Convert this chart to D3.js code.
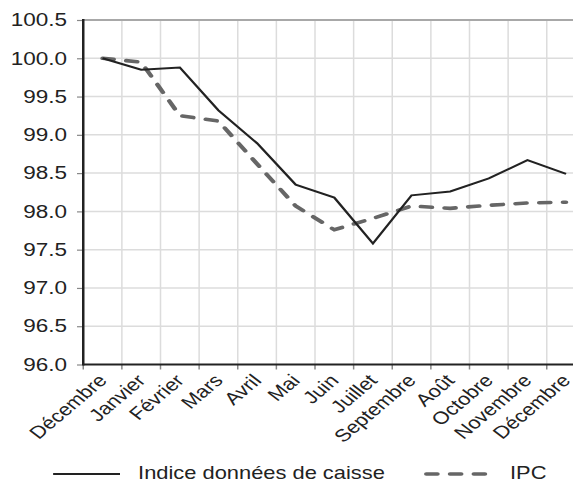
<!DOCTYPE html>
<html lang="fr">
<head>
<meta charset="UTF-8">
<script src="https://d3js.org/d3.v7.min.js"></script>
<style>
  body { margin: 0; background: #fff; }
  text { font-family: 'Liberation Sans', Arial, sans-serif; fill: #222; }
</style>
</head>
<body>
<div id="chart"></div>
<script>
// données
const mois = ["Décembre", "Janvier", "Février", "Mars", "Avril", "Mai", "Juin",
              "Juillet", "Septembre", "Août", "Octobre", "Novembre", "Décembre"];
const indiceCaisse = [100.0, 99.85, 99.88, 99.32, 98.89, 98.35, 98.18, 97.58, 98.21, 98.26, 98.43, 98.67, 98.49];
const ipc = [100.0, 99.95, 99.25, 99.18, 98.62, 98.07, 97.76, 97.91, 98.07, 98.04, 98.08, 98.11, 98.12];
const yTicks = [96.0, 96.5, 97.0, 97.5, 98.0, 98.5, 99.0, 99.5, 100.0, 100.5];

// le graphique d'origine est étiré horizontalement
const W = 573, H = 482, sx = 1.25;
const iw = W / sx;
const mLeft = 66.6, mTop = 20, mBottom = 364.5, step = 30.9;

const svg = d3.select("#chart").append("svg")
  .attr("width", W).attr("height", H)
  .attr("viewBox", `0 0 ${iw} ${H}`)
  .attr("preserveAspectRatio", "none")
  .style("display", "block");

const idx = mois.map((d, i) => i);
const x = d3.scaleBand().domain(idx).range([mLeft, mLeft + step * mois.length]);
const y = d3.scaleLinear().domain([96, 100.5]).range([mBottom, mTop]);

// grille
svg.append("g").selectAll("line")
  .data(yTicks.slice(1, -1))
  .enter().append("line")
  .attr("x1", mLeft).attr("x2", iw)
  .attr("y1", d => y(d)).attr("y2", d => y(d))
  .attr("stroke", "#dcdcdc").attr("stroke-width", 1.5);

svg.append("g").selectAll("line")
  .data(idx.slice(1))
  .enter().append("line")
  .attr("x1", d => x(d)).attr("x2", d => x(d))
  .attr("y1", mTop).attr("y2", mBottom)
  .attr("stroke", "#dcdcdc").attr("stroke-width", 1.2);

// bord supérieur
svg.append("line")
  .attr("x1", mLeft).attr("x2", iw)
  .attr("y1", y(100.5)).attr("y2", y(100.5))
  .attr("stroke", "#a8a8a8").attr("stroke-width", 2.2);

// axe Y
const yAxis = svg.append("g")
  .attr("transform", `translate(${mLeft},0)`)
  .call(d3.axisLeft(y).tickValues(yTicks).tickFormat(d3.format(".1f")).tickSize(5).tickPadding(8));
yAxis.select(".domain").remove();
yAxis.selectAll("line").attr("stroke", "#888").attr("stroke-width", 1.2);
yAxis.selectAll("text").attr("font-size", 18).attr("fill", "#222");

// axe X
const xAxis = svg.append("g")
  .attr("transform", `translate(0,${mBottom})`)
  .call(d3.axisBottom(x).tickSize(0).tickFormat(i => mois[i]));
xAxis.select(".domain").remove();
xAxis.selectAll("text")
  .attr("font-size", 17.5)
  .attr("fill", "#222")
  .attr("text-anchor", "end")
  .attr("x", 0).attr("y", 0).attr("dy", 0)
  .attr("transform", "translate(4.4,17) rotate(-46.5)");

svg.append("g").selectAll("line")
  .data(idx)
  .enter().append("line")
  .attr("x1", d => x(d)).attr("x2", d => x(d))
  .attr("y1", mBottom).attr("y2", mBottom + 5)
  .attr("stroke", "#888").attr("stroke-width", 1.2);

svg.append("line")
  .attr("x1", mLeft).attr("x2", iw)
  .attr("y1", mBottom).attr("y2", mBottom)
  .attr("stroke", "#222").attr("stroke-width", 2.2);
svg.append("line")
  .attr("x1", mLeft).attr("x2", mLeft)
  .attr("y1", mTop - 1).attr("y2", mBottom + 1)
  .attr("stroke", "#222").attr("stroke-width", 2);

// courbes
const cx = i => x(i) + x.bandwidth() / 2;
const line = d3.line().x((d, i) => cx(i)).y(d => y(d));

svg.append("path")
  .datum(ipc)
  .attr("d", line)
  .attr("fill", "none")
  .attr("stroke", "#666")
  .attr("stroke-width", 3.6)
  .attr("stroke-dasharray", "9,10")
  .attr("stroke-linecap", "round");

svg.append("path")
  .datum(indiceCaisse)
  .attr("d", line)
  .attr("fill", "none")
  .attr("stroke", "#222")
  .attr("stroke-width", 2);

// légende
const leg = svg.append("g");
leg.append("line")
  .attr("x1", 42.5).attr("x2", 96).attr("y1", 474).attr("y2", 474)
  .attr("stroke", "#222").attr("stroke-width", 2);
leg.append("text")
  .attr("x", 110.5).attr("y", 479.5)
  .attr("font-size", 17.5)
  .text("Indice données de caisse");
leg.append("line")
  .attr("x1", 341).attr("x2", 390).attr("y1", 474).attr("y2", 474)
  .attr("stroke", "#666").attr("stroke-width", 3.6)
  .attr("stroke-dasharray", "9,10")
  .attr("stroke-linecap", "round");
leg.append("text")
  .attr("x", 408).attr("y", 479.5)
  .attr("font-size", 17.5)
  .text("IPC");
</script>
</body>
</html>
